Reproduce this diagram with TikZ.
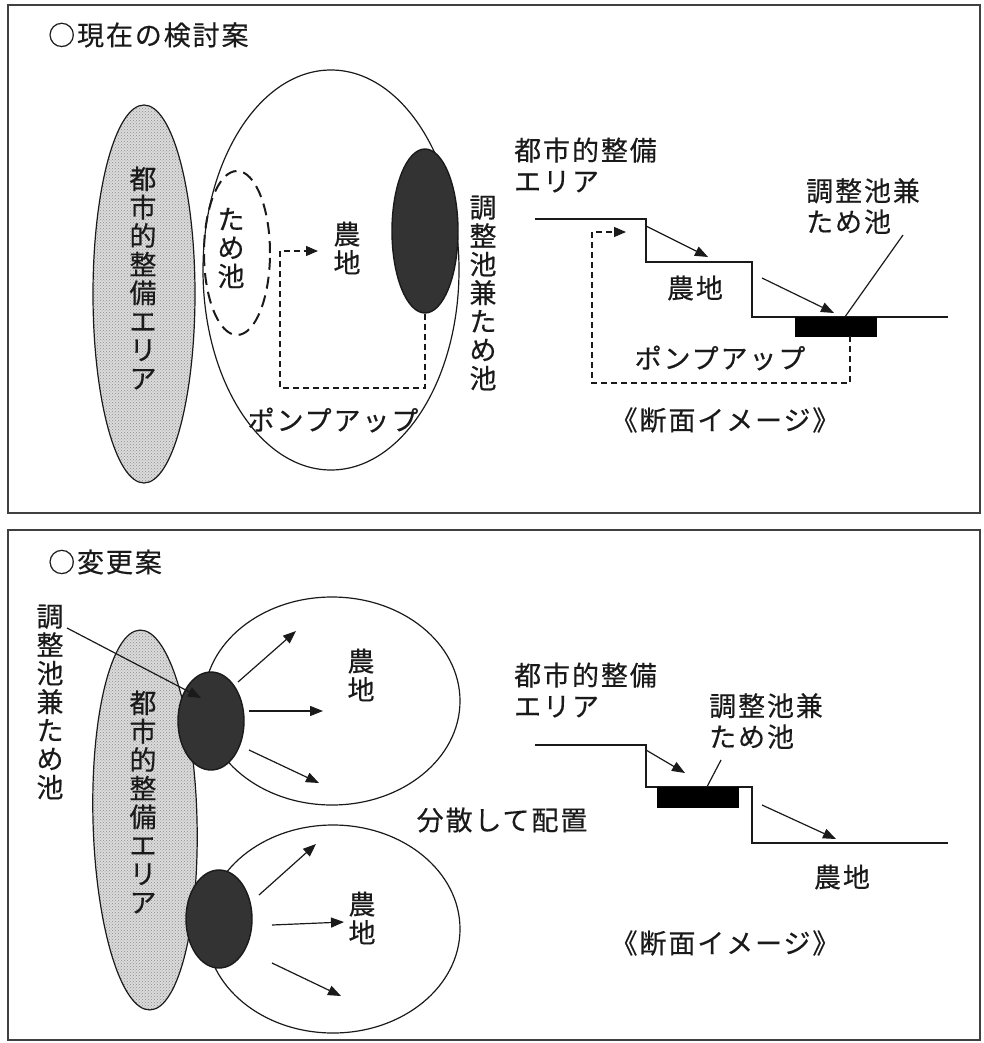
\documentclass[tikz,border=0pt]{standalone}
\usepackage{fontspec}
\setmainfont{Noto Sans CJK JP}[FakeBold=0.4]
\newfontfamily\jpsp{Noto Sans CJK JP}[LetterSpace=7,FakeBold=0.4]
\usetikzlibrary{shapes.geometric,patterns,arrows.meta}
\definecolor{ink}{HTML}{1A1A1A}
\definecolor{frame}{HTML}{404040}
\definecolor{pond}{HTML}{333333}
\tikzset{
  htxt/.style={font=\jpsp\fontsize{27}{31}\selectfont, text=ink, inner sep=0pt, align=left},
  vtxt/.style={font=\fontsize{27}{28.5}\selectfont, text=ink, inner sep=0pt, align=center},
  panel/.style={draw=frame, line width=1.8pt},
  ell/.style={ellipse, draw=ink, line width=1.2pt, inner sep=0pt},
  urban/.style={ell, preaction={fill=gray!28}, pattern=crosshatch dots, pattern color=gray!90},
  darkpond/.style={ell, fill=pond, line width=1.4pt},
  flat/.style={draw=ink, line width=1.3pt},
  arr/.style={draw=ink, line width=1.2pt, -{Triangle[length=13pt,width=10pt]}},
  dsh/.style={draw=ink, line width=1.1pt, dash pattern=on 6pt off 4pt},
  blk/.style={rectangle, fill=black, draw=black, inner sep=0pt}
}
\begin{document}
\begin{tikzpicture}[x=1pt,y=-1pt]
\useasboundingbox (0,0) rectangle (983,1043);
% panels
\draw[panel] (8,5) rectangle (980,513);
\draw[panel] (8,530) rectangle (980,1040);

% ===== top panel =====
\node[htxt, anchor=west] (titleA) at (48,35) {○現在の検討案};
\node[urban, minimum width=102pt, minimum height=378pt] (hatA) at (144,294) {};
\node[vtxt] (hatAtxt) at (143,278) {都\\市\\的\\整\\備\\エ\\リ\\ア};
\node[ell, minimum width=256pt, minimum height=400pt] (bigA) at (331,270) {};
\node[ell, dash pattern=on 12pt off 7pt, line width=2pt, minimum width=66pt, minimum height=164pt] (dashA) at (237,253) {};
\node[vtxt] (dashAtxt) at (231,248) {た\\め\\池};
\node[darkpond, minimum width=66pt, minimum height=164pt] (darkA) at (425,231) {};
\node[vtxt] (darkAtxt) at (483,293) {調\\整\\池\\兼\\た\\め\\池};
\node[vtxt] (farmA) at (347,248) {農\\地};
\node[htxt] (pumpA) at (333,420) {ポンプアップ};
\coordinate (pa1) at (280,388);
\coordinate (pa2) at (318,251);
\draw[dsh, -{Triangle[length=12pt,width=10pt]}] (darkA.south) |- (pa1) |- (pa2);

% top section profile
\draw[flat] (535,219) -- (646,219) -- (646,262) -- (752,262) -- (752,317) -- (948,317);
\node[blk, minimum width=81pt, minimum height=19pt] (pondA) at (835.5,326.5) {};
\node[htxt, anchor=west] (urbA) at (514,165) {都市的整備\\エリア};
\node[htxt, anchor=west] (pondAtxt) at (806,206) {調整池兼\\ため池};
\node[htxt] (farmA2) at (695,288) {農地};
\node[htxt] (pumpA2) at (720,358) {ポンプアップ};
\node[htxt] (secA) at (725,420) {《断面イメージ》};
\coordinate (a1s) at (646,226); \coordinate (a1e) at (708,257);
\coordinate (a2s) at (762,278); \coordinate (a2e) at (834,313);
\coordinate (lA) at (903,235);
\draw[arr] (a1s) -- (a1e);
\draw[arr] (a2s) -- (a2e);
\draw[flat, line width=1.2pt] (lA) -- (pondA.north east -| 845,317);
\coordinate (pb1) at (850,336);
\coordinate (pb2) at (592,383);
\coordinate (pb3) at (626,232);
\draw[dsh, -{Triangle[length=12pt,width=10pt]}] (pb1) |- (pb2) |- (pb3);

% ===== bottom panel =====
\node[htxt, anchor=west] (titleB) at (48,562) {○変更案};
\node[urban, rotate=1.5, minimum width=104pt, minimum height=380pt] (hatB) at (145,820) {};
\node[ell, fill=white, minimum width=256pt, minimum height=208pt] (bigB1) at (332,701) {};
\node[ell, fill=white, minimum width=254pt, minimum height=208pt] (bigB2) at (333,929) {};
\node[vtxt] (hatBtxt) at (143,802) {都\\市\\的\\整\\備\\エ\\リ\\ア};
\node[darkpond, minimum width=66pt, minimum height=98pt] (darkB1) at (211,721) {};
\node[darkpond, minimum width=66pt, minimum height=98pt] (darkB2) at (219,919) {};
\node[vtxt] (pondBtxt) at (50,702) {調\\整\\池\\兼\\た\\め\\池};
\node[vtxt] (farmB1) at (361,675) {農\\地};
\node[vtxt] (farmB2) at (362,918) {農\\地};
\node[htxt] (spread) at (502,820) {分散して配置};
\coordinate (lB) at (67,628);
\coordinate (lBe) at (201,698);
\draw[arr] (lB) -- (lBe);
\coordinate (u1s) at (238,682); \coordinate (u1e) at (296,631);
\coordinate (u2s) at (249,711); \coordinate (u2e) at (323,711);
\coordinate (u3s) at (249,750); \coordinate (u3e) at (319,783);
\coordinate (d1s) at (259,895); \coordinate (d1e) at (316,844);
\coordinate (d2s) at (272,925); \coordinate (d2e) at (344,922);
\coordinate (d3s) at (272,963); \coordinate (d3e) at (341,996);
\foreach \s/\e in {u1s/u1e,u2s/u2e,u3s/u3e,d1s/d1e,d2s/d2e,d3s/d3e}
  \draw[arr] (\s) -- (\e);

% bottom section profile
\draw[flat] (535,745) -- (646,745) -- (646,787) -- (752,787) -- (752,843) -- (948,843);
\node[blk, minimum width=81pt, minimum height=20pt] (pondB) at (697.5,797) {};
\node[htxt, anchor=west] (urbB) at (514,690) {都市的整備\\エリア};
\node[htxt, anchor=west] (pondB2txt) at (709,721) {調整池兼\\ため池};
\node[htxt] (farmB3) at (842,877) {農地};
\node[htxt] (secB) at (725,943) {《断面イメージ》};
\coordinate (b1s) at (646,750); \coordinate (b1e) at (685,773);
\coordinate (b2s) at (762,805); \coordinate (b2e) at (836,839);
\coordinate (lC) at (721,760);
\draw[arr] (b1s) -- (b1e);
\draw[arr] (b2s) -- (b2e);
\draw[flat, line width=1.2pt] (lC) -- (pondB.north -| 707,787);
\end{tikzpicture}
\end{document}
